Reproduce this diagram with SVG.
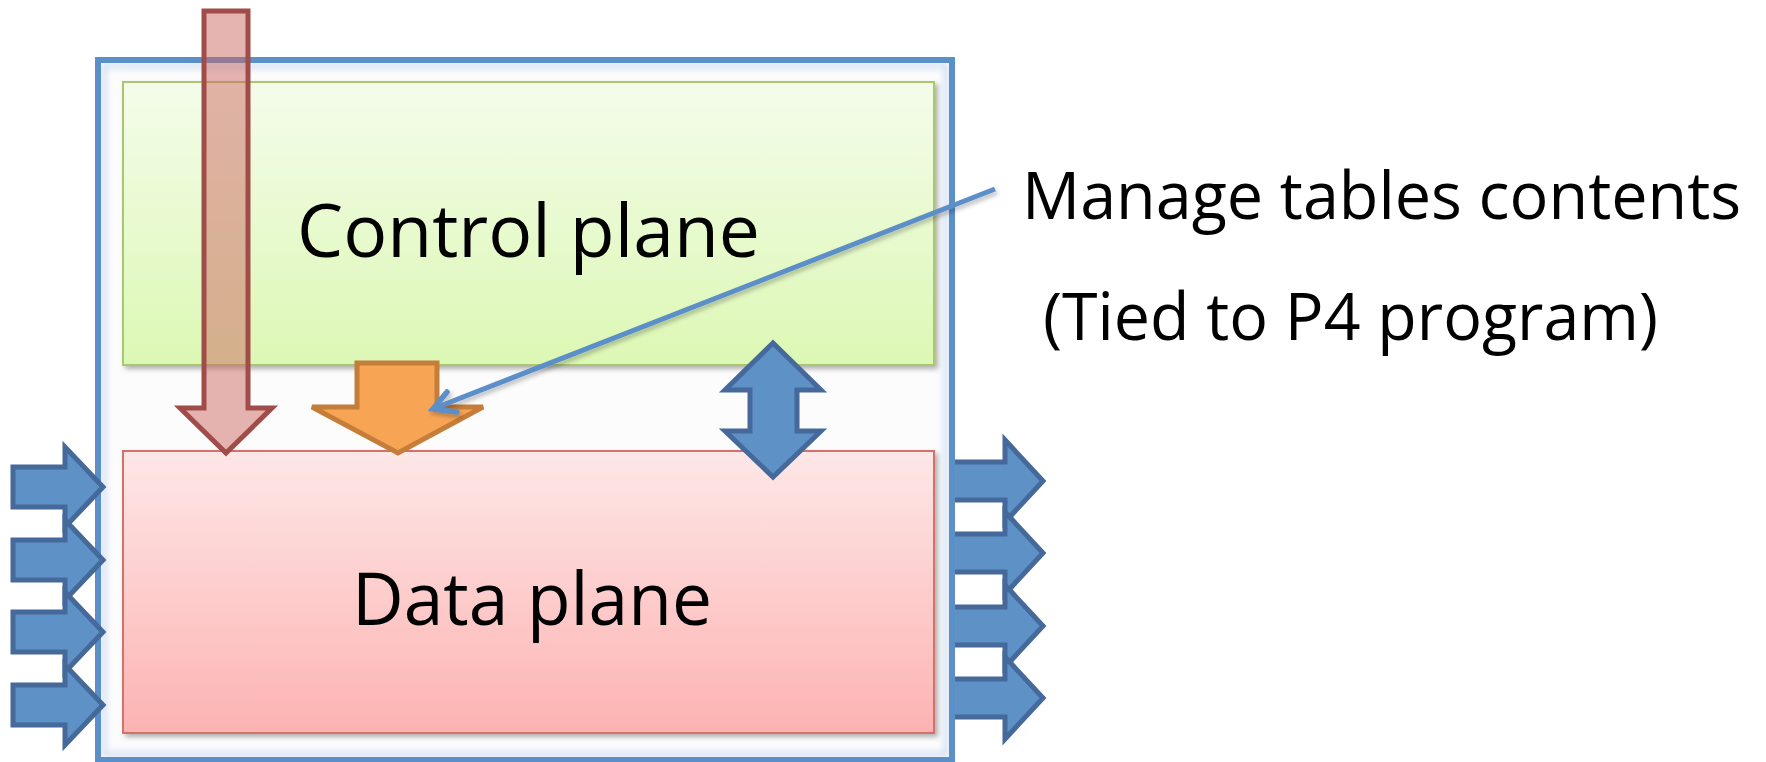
<svg xmlns="http://www.w3.org/2000/svg" width="1766" height="762" viewBox="0 0 1766 762">
<defs>
<linearGradient id="gGreen" x1="0" y1="0" x2="0" y2="1">
<stop offset="0" stop-color="#f4fcea"/>
<stop offset="1" stop-color="#dcf8b4"/>
</linearGradient>
<linearGradient id="gRed" x1="0" y1="0" x2="0" y2="1">
<stop offset="0" stop-color="#fee7e7"/>
<stop offset="1" stop-color="#fcb3b2"/>
</linearGradient>
<filter id="shadow" x="-5%" y="-5%" width="112%" height="115%">
<feDropShadow dx="3" dy="3" stdDeviation="2.5" flood-color="#000" flood-opacity="0.3"/>
</filter>
<filter id="glow" x="-5%" y="-5%" width="110%" height="110%">
<feGaussianBlur stdDeviation="3"/>
</filter>
<filter id="lshadow" x="-5%" y="-20%" width="110%" height="140%">
<feDropShadow dx="2" dy="3" stdDeviation="2" flood-color="#000" flood-opacity="0.25"/>
</filter>
</defs>
<style>
.blueArrow{fill:#5e92c7;stroke:#45699a;stroke-width:5;stroke-linejoin:miter}
.label{font-family:"Open Sans","Noto Sans","Liberation Sans",sans-serif;fill:#000}
</style>
<rect width="1766" height="762" fill="#ffffff"/>

<g id="outputs">
<polygon class="blueArrow" points="945,462 1005,462 1005,440 1043,481 1005,522 1005,500 945,500"/>
<polygon class="blueArrow" points="945,534 1005,534 1005,512 1043,553 1005,594 1005,572 945,572"/>
<polygon class="blueArrow" points="945,607 1005,607 1005,585 1043,626 1005,667 1005,645 945,645"/>
<polygon class="blueArrow" points="945,679 1005,679 1005,657 1043,698 1005,739 1005,717 945,717"/>
</g>

<g id="device">
<rect x="98" y="60" width="854" height="700" fill="#fcfcfd" stroke="none"/>
<rect x="104" y="66" width="842" height="688" fill="none" stroke="#d6e4f3" stroke-width="6" filter="url(#glow)"/>
<rect x="98" y="60" width="854" height="700" fill="none" stroke="#5b8fc8" stroke-width="6"/>
</g>

<g id="inputs">
<polygon class="blueArrow" points="13,467 65,467 65,447 103,487 65,527 65,507 13,507"/>
<polygon class="blueArrow" points="13,540 65,540 65,520 103,560 65,600 65,580 13,580"/>
<polygon class="blueArrow" points="13,612 65,612 65,592 103,632 65,672 65,652 13,652"/>
<polygon class="blueArrow" points="13,685 65,685 65,665 103,705 65,745 65,725 13,725"/>
</g>

<g id="control-plane">
<rect x="123" y="82" width="811" height="283" fill="url(#gGreen)" stroke="#a9c76c" stroke-width="2" filter="url(#shadow)"/>
<text class="label" x="297" y="257" font-size="74" textLength="463" lengthAdjust="spacingAndGlyphs">Control plane</text>
</g>

<g id="data-plane">
<rect x="123" y="451" width="811" height="282" fill="url(#gRed)" stroke="#d4716c" stroke-width="2" filter="url(#shadow)"/>
<text class="label" x="352" y="625" font-size="73" textLength="360" lengthAdjust="spacingAndGlyphs">Data plane</text>
</g>

<g id="program-arrow">
<polygon points="204,11 248,11 248,408 272,408 226,453 180,408 204,408" fill="rgb(203,103,97)" fill-opacity="0.5" stroke="#a04c48" stroke-width="5" stroke-linejoin="miter"/>
</g>

<g id="tables-arrow">
<polygon points="357,363 437,363 437,407 483,407 398,453 312,407 357,407" fill="#f7a555" stroke="#c57d3a" stroke-width="5" stroke-linejoin="miter"/>
</g>

<g id="cp-dp-arrow">
<polygon class="blueArrow" points="773,343 821,390 797,390 797,431 821,431 773,477 725,431 750,431 750,390 725,390"/>
</g>

<g id="connectors" filter="url(#lshadow)">
<line x1="995" y1="189" x2="435" y2="408" stroke="#5b8fc8" stroke-width="5" stroke-linecap="butt"/>
<polyline points="447,392 433,409 457,412" fill="none" stroke="#5b8fc8" stroke-width="5.5" stroke-linecap="round" stroke-linejoin="miter"/>
</g>

<g id="annotation">
<text class="label" x="1022" y="219" font-size="65" textLength="719" lengthAdjust="spacingAndGlyphs">Manage tables contents</text>
<text class="label" x="1043" y="340" font-size="65" textLength="615" lengthAdjust="spacingAndGlyphs">(Tied to P4 program)</text>
</g>
</svg>
